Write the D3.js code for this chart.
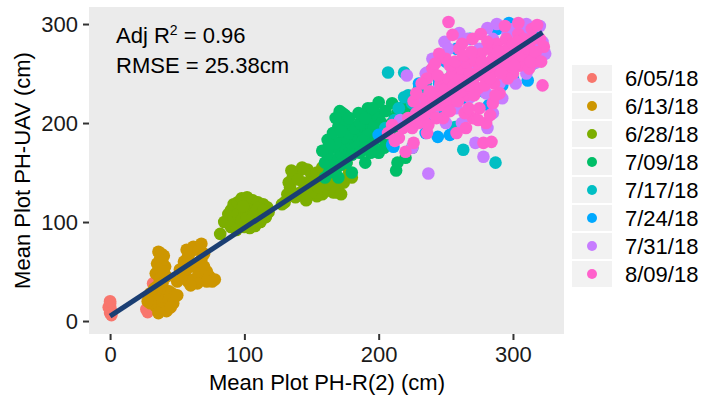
<!DOCTYPE html>
<html><head><meta charset="utf-8">
<script src="https://cdn.jsdelivr.net/npm/d3@7"></script>
<style>body{margin:0;background:#fff}svg{display:block}text{font-family:"Liberation Sans",Arial,sans-serif}</style>
</head><body><div id="c"></div>
<script>
const dates = ["6/05/18","6/13/18","6/28/18","7/09/18","7/17/18","7/24/18","7/31/18","8/09/18"];
const colors = ["#F8766D","#CD9600","#7CAE00","#00BE67","#00BFC4","#00A9FF","#C77CFF","#FF61CC"];
const xTicks = [0,100,200,300];
const yTicks = [0,100,200,300];
const fitIntercept = 5, fitSlope = 0.89, fitRange = [0, 322];
const annot1 = "Adj R", annot1b = "2", annot1c = " = 0.96", annot2 = "RMSE = 25.38cm";

const s0605 = [[0,8],[0,12],[0,15],[0,18],[1,10],[-1,14],[0,20],[1,6],[27,12],[28,9],[30,15],[32,38],[33,35],[45,14],[44,18],[38,20],[35,25]];
const s0613 = [[36,70],[38,68],[40,66],[37,62],[35,58],[39,60],[41,55],[36,52],[34,48],[38,46],[40,50],[42,45],[37,42],[39,38],[35,35],[33,33],[40,32],[44,30],[46,28],[48,25],[30,28],[32,24],[36,22],[40,20],[44,22],[47,18],[34,15],[38,12],[42,10],[36,8],[30,18],[45,14],[50,26],[28,20],
 [55,60],[58,65],[60,70],[62,75],[66,72],[70,68],[68,62],[64,58],[60,55],[56,50],[54,45],[58,40],[62,42],[66,48],[70,55],[72,50],[74,45],[76,40],[78,42],[72,40],[65,38],[60,36],[52,52],[50,40],[68,78],[57,72]];
const s0628 = [[85,100],[88,108],[90,112],[92,118],[95,120],[98,124],[102,125],[106,122],[110,120],[114,118],[117,115],[118,110],[116,105],[112,100],[108,96],[104,94],[100,95],[96,98],[92,104],[95,108],[100,110],[104,112],[108,110],[112,108],[98,102],[102,104],[106,104],[90,95],[94,92],[82,88],[110,114],[114,112],[99,116],
 [130,120],[132,128],[134,135],[133,140],[136,145],[140,150],[143,155],[147,153],[150,148],[154,150],[158,155],[162,154],[165,150],[168,145],[172,142],[170,135],[166,130],[162,132],[158,128],[154,126],[150,130],[146,134],[142,130],[138,125],[144,140],[150,140],[156,142],[160,140],[164,138],[168,130],[172,128],[135,152],[140,143],[155,135],[174,140],[128,118],[146,122],[176,160],[178,150],[180,145],[174,158],[170,162]];
const s0709 = [[160,145],[163,150],[165,155],[167,160],[170,165],[172,170],[175,175],[178,170],[180,178],[182,183],[185,185],[188,190],[190,195],[192,200],[195,205],[198,210],[200,205],[202,200],[196,195],[192,188],[188,182],[184,176],[180,168],[176,160],[172,158],[168,152],[174,185],[178,190],[182,195],[186,200],[171,212],[175,208],[165,175],[168,180],[200,190],[204,185],[206,195],[210,200],[212,205],[214,210],[216,215],[220,210],[218,200],[212,190],[208,180],[204,175],[200,170],[196,180],[190,175],[186,170],[222,218],[213,152],[220,165],[225,175],[170,145],[180,150],[190,160],[194,170],[198,185],[210,220],[160,160],[162,168],[173,210],[200,221],[192,215],
 [162,183],[170,196],[166,190],[175,200],[168,205],[172,192],[178,205],[185,210],[190,205],[195,215],[205,212],[158,172],[163,178],[214,160]];
const s0717 = [[207,251],[219,251],[239,253],[219,226],[222,228],[212,203],[225,220],[230,235],[235,240],[245,245],[250,238],[257,196],[263,173],[287,160],[240,215],[228,210],[215,215],[232,225],[255,250],[260,245],[248,230],[265,235],[270,255],[275,260],[205,195],[238,205]];
const s0724 = [[297,301],[311,243],[244,186],[253,188],[282,218],[211,176],[235,190],[200,188],[210,178],[237,203],[249,210],[230,215],[240,228],[260,235],[270,240],[280,250],[290,265],[300,275],[305,290],[310,285],[285,280],[275,270],[265,260],[255,245],[245,240],[300,245],[295,255],[220,200],[262,225],[278,232],[292,238],[305,260],[315,295],[288,295],[268,285],[258,275],[250,262],[230,240],[315,260],[318,270]];
const s0731 = [[237,149],[317,261],[322,282],[249,282],[260,291],[221,248],[236,251],[281,296],[308,297],[278,166],[281,195],[216,203],[268,226],[235,250],[225,175],[250,230],[260,240],[270,255],[290,270],[300,280],[312,290],[285,285],[275,275],[265,265],[255,255],[245,235],[295,250],[305,265],[315,275],[290,240],[280,230],[240,210],[230,220],[300,295],[320,298],[262,200],[272,180],[285,210],[250,200],[310,250],
 [240,265],[252,275],[266,285],[288,300],[296,290],[310,300],[316,285],[324,270],[302,240],[292,225],[258,215]];
const s0809 = [[220,171],[215,185],[218,195],[222,205],[225,195],[228,210],[230,200],[232,215],[235,225],[238,212],[240,220],[242,230],[245,218],[246,240],[248,228],[250,235],[252,245],[254,222],[255,250],[256,238],[258,232],[260,245],[262,255],[264,240],[265,228],[266,260],[268,250],[270,242],[272,262],[274,235],[275,255],[276,270],[278,248],[280,260],[282,275],[284,252],[285,265],[286,240],[288,280],[290,262],[292,270],[294,255],[295,285],[296,275],[298,265],[300,280],[302,270],[304,290],[305,258],[306,275],[308,285],[310,268],[312,280],[314,295],[316,262],[318,299],[320,285],[322,238],[323,277],[304,301],[252,302],[255,289],[260,275],[250,265],[245,270],[240,255],[262,280],[270,285],[278,180],[265,195],[258,190],[270,205],[280,200],[285,220],[290,230],[248,205],[236,245],[242,260],[232,240],[275,215],[300,250],[296,245],[312,255],[226,222],[264,210],[283,208],[276,290],[294,298],[284,181],[274,203],[226,180],[236,190],[207,190],[212,182],[210,198],
 [228,230],[234,208],[238,232],[244,248],[247,222],[251,215],[253,258],[257,262],[259,222],[261,232],[263,268],[267,238],[269,272],[271,228],[273,248],[277,262],[279,238],[281,282],[283,245],[287,258],[289,272],[291,250],[297,262],[301,258],[303,282],[307,268],[311,275],[313,262],[315,285],[317,272],[321,262],[237,198],[243,205],[253,212],[267,215],[287,228]];
const seriesData = [s0605,s0613,s0628,s0709,s0717,s0724,s0731,s0809];

const W = 702, H = 398;
const panel = {l: 89, r: 564, t: 7, b: 334};
const x = d3.scaleLinear().domain([-15.7, 338]).range([panel.l, panel.r]);
const y = d3.scaleLinear().domain([-13.1, 317.2]).range([panel.b, panel.t]);

const svg = d3.select("#c").append("svg").attr("width", W).attr("height", H);
svg.append("rect").attr("x", panel.l).attr("y", panel.t).attr("width", panel.r - panel.l).attr("height", panel.b - panel.t).attr("fill", "#EBEBEB");

const plot = svg.append("g");
seriesData.forEach((pts, i) => {
  plot.append("g").selectAll("circle").data(pts).join("circle")
    .attr("cx", d => x(d[0])).attr("cy", d => y(d[1])).attr("r", 6.3)
    .attr("fill", colors[i]);
});

plot.append("line")
  .attr("x1", x(fitRange[0])).attr("y1", y(fitIntercept + fitSlope * fitRange[0]))
  .attr("x2", x(fitRange[1])).attr("y2", y(fitIntercept + fitSlope * fitRange[1]))
  .attr("stroke", "#1A3E73").attr("stroke-width", 5).attr("stroke-linecap", "butt");

const xAxis = svg.append("g").attr("transform", `translate(0,${panel.b})`)
  .call(d3.axisBottom(x).tickValues(xTicks).tickSize(6).tickPadding(6));
const yAxis = svg.append("g").attr("transform", `translate(${panel.l},0)`)
  .call(d3.axisLeft(y).tickValues(yTicks).tickSize(6).tickPadding(5));
[xAxis, yAxis].forEach(a => {
  a.select(".domain").remove();
  a.selectAll(".tick line").attr("stroke", "#333").attr("stroke-width", 2);
  a.selectAll(".tick text").attr("fill", "#1a1a1a").style("font-size", "22px").style("font-family", "'Liberation Sans', Arial, sans-serif");
});

svg.append("text").attr("x", 327).attr("y", 390).attr("text-anchor", "middle")
  .style("font-size", "22px").attr("fill", "#000").text("Mean Plot PH-R(2) (cm)");
svg.append("text").attr("transform", `translate(30,${(panel.t + panel.b) / 2}) rotate(-90)`).attr("text-anchor", "middle")
  .style("font-size", "22px").attr("fill", "#000").text("Mean Plot PH-UAV (cm)");

const a1 = svg.append("text").attr("x", 116).attr("y", 43).style("font-size", "22px").attr("fill", "#000");
a1.append("tspan").text(annot1);
a1.append("tspan").attr("dy", -8).style("font-size", "14px").text(annot1b);
a1.append("tspan").attr("dy", 8).text(annot1c);
svg.append("text").attr("x", 116).attr("y", 73).style("font-size", "22px").attr("fill", "#000").text(annot2);

const lg = svg.append("g");
dates.forEach((d, i) => {
  const top = 65 + i * 28;
  lg.append("rect").attr("x", 572).attr("y", top).attr("width", 40).attr("height", 26).attr("fill", "#F2F2F2");
  lg.append("circle").attr("cx", 592).attr("cy", top + 13).attr("r", 5).attr("fill", colors[i]);
  lg.append("text").attr("x", 625).attr("y", top + 13).attr("dy", "0.36em").style("font-size", "22px").attr("fill", "#000").text(d);
});
</script></body></html>
